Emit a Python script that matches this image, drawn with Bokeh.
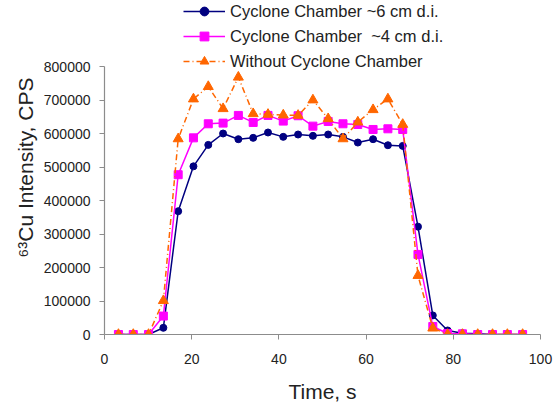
from bokeh.plotting import figure
from bokeh.models import Range1d, Legend, LegendItem, FixedTicker
from bokeh.embed import file_html
from bokeh.resources import INLINE

time_s = [3.2, 6.6, 10.1, 13.5, 16.9, 20.4, 23.8, 27.2, 30.7, 34.1, 37.5, 41.0, 44.4, 47.8,
          51.3, 54.7, 58.1, 61.6, 65.0, 68.4, 71.9, 75.3, 78.7, 82.1, 85.6, 89.0, 92.4, 95.9]
cyclone_6cm = [0, 0, 0, 20000, 368000, 502000, 566000, 600000, 583000, 587000, 603000, 590000,
               597000, 593000, 597000, 590000, 573000, 583000, 565000, 563000, 322000, 57000,
               12000, 4000, 2000, 0, 0, 0]
cyclone_4cm = [0, 0, 0, 55000, 477000, 587000, 629000, 631000, 654000, 633000, 654000, 637000,
               653000, 622000, 636000, 629000, 627000, 612000, 614000, 612000, 239000, 24000,
               3000, 2000, 0, 0, 0, 0]
no_cyclone = [0, 0, 0, 101000, 584000, 703000, 740000, 674000, 768000, 659000, 657000, 655000,
              654000, 700000, 644000, 584000, 634000, 671000, 703000, 627000, 176000, 19000,
              0, 0, 0, 0, 0, 0]
labels = ["Cyclone Chamber ~6 cm d.i.", "Cyclone Chamber  ~4 cm d.i.", "Without Cyclone Chamber"]
x_ticks = [0, 20, 40, 60, 80, 100]
y_ticks = [0, 100000, 200000, 300000, 400000, 500000, 600000, 700000, 800000]
y_axis_max = 800000

FONT = "Liberation Sans"
NAVY = "#000080"
MAGENTA = "#FF00FF"
ORANGE = "#FF6600"

# frame spans the full height above the x axis (334 px); the y axis itself stops at 800000,
# leaving the top 66 px free for the legend
FRAME_H = 334
AXIS_H = 268
y_top = y_axis_max * FRAME_H / AXIS_H

p = figure(width=555, height=408, output_backend="svg", toolbar_location=None,
           x_range=Range1d(0, 100), y_range=Range1d(0, y_top),
           min_border_left=104, min_border_right=15, min_border_top=0, min_border_bottom=74)
p.outline_line_color = None
p.xgrid.visible = False
p.ygrid.visible = False
p.background_fill_color = "white"
p.border_fill_color = "white"

for ax in (p.xaxis[0], p.yaxis[0]):
    ax.axis_line_color = "#8c8c8c"
    ax.major_tick_line_color = "#8c8c8c"
    ax.axis_line_width = 1.2
    ax.major_tick_in = 0
    ax.major_tick_out = 5
    ax.minor_tick_line_color = None
    ax.major_label_text_font = FONT
    ax.major_label_text_font_size = "14px"
    ax.major_label_text_color = "#222222"
    ax.axis_label_text_font = FONT
    ax.axis_label_text_font_style = "normal"
    ax.axis_label_text_font_size = "21px"
    ax.axis_label_text_color = "#222222"

p.xaxis.ticker = FixedTicker(ticks=x_ticks)
p.yaxis.ticker = FixedTicker(ticks=y_ticks)
p.yaxis.bounds = (0, y_axis_max)
p.yaxis.formatter.use_scientific = False
p.xaxis.major_label_standoff = 14
p.yaxis.major_label_standoff = 9
p.xaxis.axis_label = "Time, s"
p.xaxis.axis_label_standoff = 13
p.yaxis.axis_label = "\u2076\u00b3Cu Intensity, CPS"
p.yaxis.axis_label_standoff = 4

r1l = p.line(time_s, cyclone_6cm, line_color=NAVY, line_width=1.5)
r1m = p.scatter(time_s, cyclone_6cm, marker="circle", size=7, fill_color=NAVY, line_color=NAVY)
r2l = p.line(time_s, cyclone_4cm, line_color=MAGENTA, line_width=1.5)
r2m = p.scatter(time_s, cyclone_4cm, marker="square", size=8, fill_color=MAGENTA, line_color=MAGENTA)
r3l = p.line(time_s, no_cyclone, line_color=ORANGE, line_width=1.5, line_dash="6 3 1 3")
r3m = p.scatter(time_s, no_cyclone, marker="triangle", size=10, fill_color=ORANGE, line_color=ORANGE)

legend = Legend(items=[LegendItem(label=labels[0], renderers=[r1l, r1m]),
                       LegendItem(label=labels[1], renderers=[r2l, r2m]),
                       LegendItem(label=labels[2], renderers=[r3l, r3m])],
                location=(79, FRAME_H - 72), orientation="vertical")
legend.padding = 0
legend.margin = 0
legend.spacing = 3
legend.glyph_width = 42
legend.glyph_height = 22
legend.label_height = 22
legend.label_standoff = 5
legend.label_text_font = FONT
legend.label_text_font_size = "16.5px"
legend.label_text_color = "#222222"
legend.border_line_alpha = 0
legend.background_fill_alpha = 0
p.add_layout(legend, "center")

open("out.html", "w").write(file_html(p, INLINE))
